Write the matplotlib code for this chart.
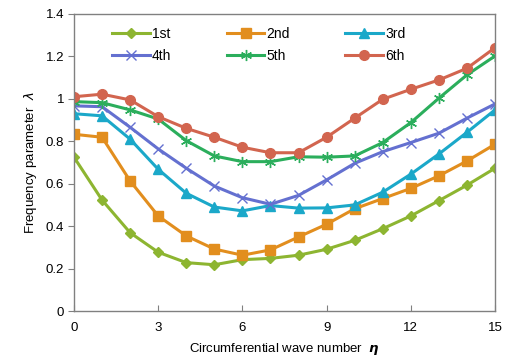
import matplotlib
matplotlib.use("Agg")
import matplotlib.pyplot as plt

plt.rcParams['font.family'] = ['Liberation Sans', 'DejaVu Sans']

n = list(range(16))
s1 = [0.725, 0.523, 0.369, 0.277, 0.228, 0.218, 0.242, 0.248, 0.263, 0.291, 0.333, 0.388, 0.448, 0.520, 0.593, 0.673]
s2 = [0.833, 0.819, 0.613, 0.448, 0.354, 0.292, 0.263, 0.288, 0.349, 0.409, 0.482, 0.530, 0.578, 0.637, 0.707, 0.786]
s3 = [0.930, 0.920, 0.810, 0.668, 0.555, 0.490, 0.472, 0.497, 0.485, 0.486, 0.500, 0.560, 0.645, 0.740, 0.842, 0.948]
s4 = [0.967, 0.963, 0.866, 0.764, 0.673, 0.589, 0.534, 0.503, 0.545, 0.618, 0.696, 0.751, 0.794, 0.838, 0.909, 0.976]
s5 = [0.987, 0.982, 0.948, 0.905, 0.803, 0.731, 0.704, 0.704, 0.727, 0.725, 0.731, 0.794, 0.888, 1.003, 1.113, 1.202]
s6 = [1.010, 1.022, 0.995, 0.916, 0.861, 0.819, 0.772, 0.746, 0.746, 0.819, 0.909, 0.998, 1.045, 1.089, 1.144, 1.241]
labels = ['1st', '2nd', '3rd', '4th', '5th', '6th']

series = [s1, s2, s3, s4, s5, s6]
colors = ['#8DB531', '#E28E1E', '#1BA8C9', '#6470D0', '#2BAE5C', '#D2654F']
markers = ['D', 's', '^', 'x', (6, 2, 0), 'o']
msizes = [5, 7, 7, 7, 8, 7]

fig = plt.figure(figsize=(5.09, 3.58), dpi=100)
ax = fig.add_axes([74/509, 1-311/358, (495-74)/509, (311-14)/358])

handles = []
for s, c, m, ms, lab in zip(series, colors, markers, msizes, labels):
    kw = dict(color=c, marker=m, markersize=ms, linewidth=2.2, label=lab)
    if m in ('x', (6, 2, 0)):
        kw.update(markeredgewidth=1.0)
    h, = ax.plot(n, s, **kw)
    handles.append(h)

ax.set_xlim(0, 15)
ax.set_ylim(0, 1.4)
ax.set_xticks([0, 3, 6, 9, 12, 15])
ax.set_yticks([0, 0.2, 0.4, 0.6, 0.8, 1.0, 1.2, 1.4])
ax.set_yticklabels(['0', '0.2', '0.4', '0.6', '0.8', '1', '1.2', '1.4'])
for sp in ax.spines.values():
    sp.set_color('#808080')
    sp.set_linewidth(1.0)
ax.tick_params(axis='x', direction='in', length=4, color='#808080', labelsize=9.5, pad=8)
ax.tick_params(axis='y', direction='out', length=4, color='#808080', labelsize=9.5, pad=3)

ax.set_xlabel('Circumferential wave number  $\\boldsymbol{\\eta}$', fontsize=9.5, labelpad=5)
ax.set_ylabel('Frequency parameter  $\\lambda$', fontsize=9.5, labelpad=5)

order = [0, 3, 1, 4, 2, 5]
ax.legend([handles[i] for i in order], [labels[i] for i in order],
          loc='upper left', bbox_to_anchor=(0.078, 0.975), ncol=3, frameon=False,
          fontsize=10, handlelength=2.7, handletextpad=0.15, columnspacing=4.0,
          labelspacing=0.55, borderaxespad=0.0)

fig.savefig('out.png', dpi=100)
